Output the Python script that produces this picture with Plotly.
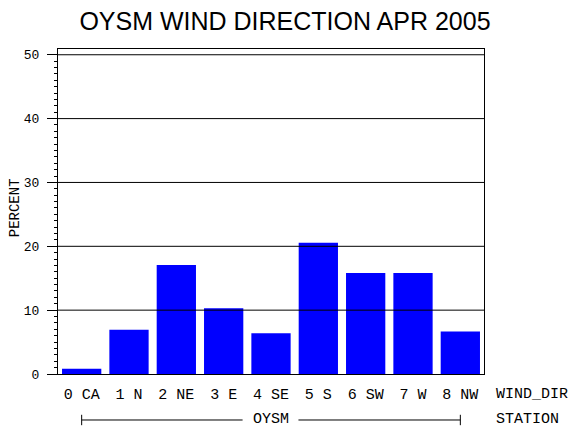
import plotly.graph_objects as go

# wind direction categories and percent of observations
wind_dir = ["0 CA", "1 N", "2 NE", "3 E", "4 SE", "5 S", "6 SW", "7 W", "8 NW"]
percent = [0.83, 6.94, 17.08, 10.28, 6.39, 20.56, 15.83, 15.83, 6.67]
grid_levels = [10, 20, 30, 40, 50]
station = "OYSM"

MONO = "Liberation Mono, DejaVu Sans Mono, monospace"
AXIS_FONT = dict(family=MONO, size=15, color="black")

fig = go.Figure()
fig.add_trace(go.Bar(
    x=wind_dir, y=percent,
    marker=dict(color="#0000ff", line=dict(width=0)),
    hoverinfo="x+y",
))

# grid lines drawn over the bars
for lvl in grid_levels:
    fig.add_shape(type="line", xref="paper", yref="y", x0=0, x1=1, y0=lvl, y1=lvl,
                  line=dict(color="black", width=1), layer="above")

# station bracket under the category labels
by = -0.1415
cap = 0.016
fig.add_shape(type="line", xref="x", yref="paper", x0=wind_dir[0], x1=3.4, y0=by, y1=by,
              line=dict(color="black", width=1))
fig.add_shape(type="line", xref="x", yref="paper", x0=4.58, x1=wind_dir[-1], y0=by, y1=by,
              line=dict(color="black", width=1))
for end in (wind_dir[0], wind_dir[-1]):
    fig.add_shape(type="line", xref="x", yref="paper", x0=end, x1=end, y0=by - cap, y1=by + cap,
                  line=dict(color="black", width=1))
fig.add_annotation(text=station, xref="x", yref="paper", x=wind_dir[4], y=by,
                   showarrow=False, font=AXIS_FONT, xanchor="center", yanchor="middle")
fig.add_annotation(text="WIND_DIR", xref="paper", yref="paper", x=1.024, y=-0.0646,
                   showarrow=False, font=AXIS_FONT, xanchor="left", yanchor="middle")
fig.add_annotation(text="STATION", xref="paper", yref="paper", x=1.024, y=by,
                   showarrow=False, font=AXIS_FONT, xanchor="left", yanchor="middle")
fig.add_annotation(text="PERCENT", xref="paper", yref="paper", x=-43 / 426, y=0.51,
                   textangle=-90, showarrow=False, font=dict(family=MONO, size=14, color="black"),
                   xanchor="center", yanchor="middle")

fig.update_layout(
    width=570, height=430,
    margin=dict(l=58, r=86, t=49, b=56),
    paper_bgcolor="white", plot_bgcolor="white",
    showlegend=False,
    bargap=0.17,
    title=dict(text="OYSM WIND DIRECTION APR 2005", x=0.5, xref="container",
               xanchor="center", y=1 - 21 / 430, yanchor="middle",
               font=dict(family="Liberation Sans, Arial, sans-serif", size=25, color="black")),
    xaxis=dict(
        showline=True, linecolor="black", linewidth=1, mirror=True,
        ticks="", showgrid=False, tickfont=AXIS_FONT, ticklabelstandoff=6,
        automargin=False,
    ),
    yaxis=dict(
        range=[0, 50.9], dtick=10, showgrid=False, zeroline=False,
        showline=True, linecolor="black", linewidth=1, mirror=True,
        ticks="outside", ticklen=10, tickcolor="black", tickwidth=1,
        minor=dict(dtick=1, ticks="outside", ticklen=3, tickcolor="black", tickwidth=1),
        tickfont=dict(family=MONO, size=13, color="black"), ticklabelstandoff=5,
        automargin=False,
    ),
)

# drop the browser's default 8px body margin so the figure fills the window
fig.write_html(
    "out.html",
    config={"displayModeBar": False},
    post_script="document.body.style.margin='0';document.body.style.overflow='hidden';",
)
